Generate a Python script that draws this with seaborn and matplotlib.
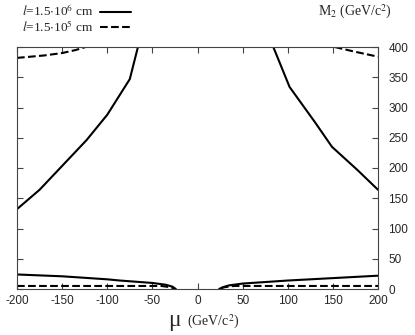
import numpy as np
import pandas as pd
import matplotlib
matplotlib.use("Agg")
import matplotlib.pyplot as plt
from matplotlib.lines import Line2D
import seaborn as sns

sns.set_style("ticks")
plt.rcParams['font.family'] = ['Liberation Sans', 'DejaVu Sans']
plt.rcParams['mathtext.fontset'] = 'stix'
plt.rcParams['axes.unicode_minus'] = False

# l = 1.5e6 cm (solid), upper branches
mu_s_up_left = [-200, -175, -149, -123, -100, -75, -66]
m2_s_up_left = [132, 164, 205, 246, 288, 347, 400]
mu_s_up_right = [84, 102, 130, 149, 177, 200]
m2_s_up_right = [400, 334, 276, 235, 197, 164]
# l = 1.5e6 cm (solid), lower branches
mu_s_lo_left = [-200, -150, -100, -86, -50, -35, -28, -24]
m2_s_lo_left = [24, 21, 16, 14, 10, 7, 4, 0]
mu_s_lo_right = [24, 28, 35, 50, 100, 150, 200]
m2_s_lo_right = [0, 3, 6, 9, 14, 18, 22]

# l = 1.5e5 cm (dashed)
mu_d_up_left = [-200, -170, -150, -135, -124]
m2_d_up_left = [382, 386, 390, 395, 400]
mu_d_up_right = [152, 175, 200]
m2_d_up_right = [400, 392, 384]
mu_d_lo_left = [-200, -100, -40, -30, -26]
m2_d_lo_left = [5, 5, 5, 3, 1]
mu_d_lo_right = [26, 30, 40, 100, 200]
m2_d_lo_right = [1, 3, 5, 5, 5]

fig, ax = plt.subplots(figsize=(4.15, 3.35), dpi=100)
fig.subplots_adjust(left=17/415, right=378/415, top=1-47/335, bottom=1-289/335)

branches = [
    (mu_s_up_left, m2_s_up_left, '-'), (mu_s_up_right, m2_s_up_right, '-'),
    (mu_s_lo_left, m2_s_lo_left, '-'), (mu_s_lo_right, m2_s_lo_right, '-'),
    (mu_d_up_left, m2_d_up_left, '--'), (mu_d_up_right, m2_d_up_right, '--'),
    (mu_d_lo_left, m2_d_lo_left, '--'), (mu_d_lo_right, m2_d_lo_right, '--'),
]
for xs, ys, ls in branches:
    df = pd.DataFrame({'mu': xs, 'm2': ys})
    sns.lineplot(data=df, x='mu', y='m2', ax=ax, color='black', lw=1.5,
                 linestyle=ls, sort=False, estimator=None)

ax.set_xlim(-200, 200)
ax.set_ylim(0, 400)
ax.set_xticks(np.arange(-200, 201, 50))
ax.set_yticks(np.arange(0, 401, 50))
ax.yaxis.tick_right()
ax.tick_params(direction='in', top=True, bottom=True, left=True, right=True,
               labelleft=False, labelright=True, labelsize=8.5, length=4,
               color='#444444', width=0.8, pad=4)
ax.tick_params(axis='y', pad=7.5)
for s in ax.spines.values():
    s.set_color('#444444')
    s.set_linewidth(0.8)
ax.set_xlabel('')
ax.set_ylabel('')

serif = ['Liberation Serif', 'DejaVu Serif']
fig.text(174/415, 1-326/335, 'μ', fontsize=17, family=serif, ha='center', va='baseline')
fig.text(187/415, 1-326/335, r'(GeV/c$^2$)', fontsize=10, family=serif, ha='left', va='baseline')
fig.text(392/415, 1-12/335, r'M$_2$ (GeV/c$^2$)', fontsize=10, family=serif, ha='right', va='center')

handles = [Line2D([], [], color='black', lw=1.5, ls='-'),
           Line2D([], [], color='black', lw=1.5, ls='--')]
labels = [r'$l$=1.5$\cdot$10$^6$ cm', r'$l$=1.5$\cdot$10$^5$ cm']
leg = fig.legend(handles, labels, loc='upper left', bbox_to_anchor=(0.025, 1.025),
                 frameon=False, markerfirst=False, handlelength=2.3,
                 labelspacing=0.0, handletextpad=0.5,
                 prop={'family': serif, 'size': 9.5})

fig.savefig('out.png', dpi=100)
